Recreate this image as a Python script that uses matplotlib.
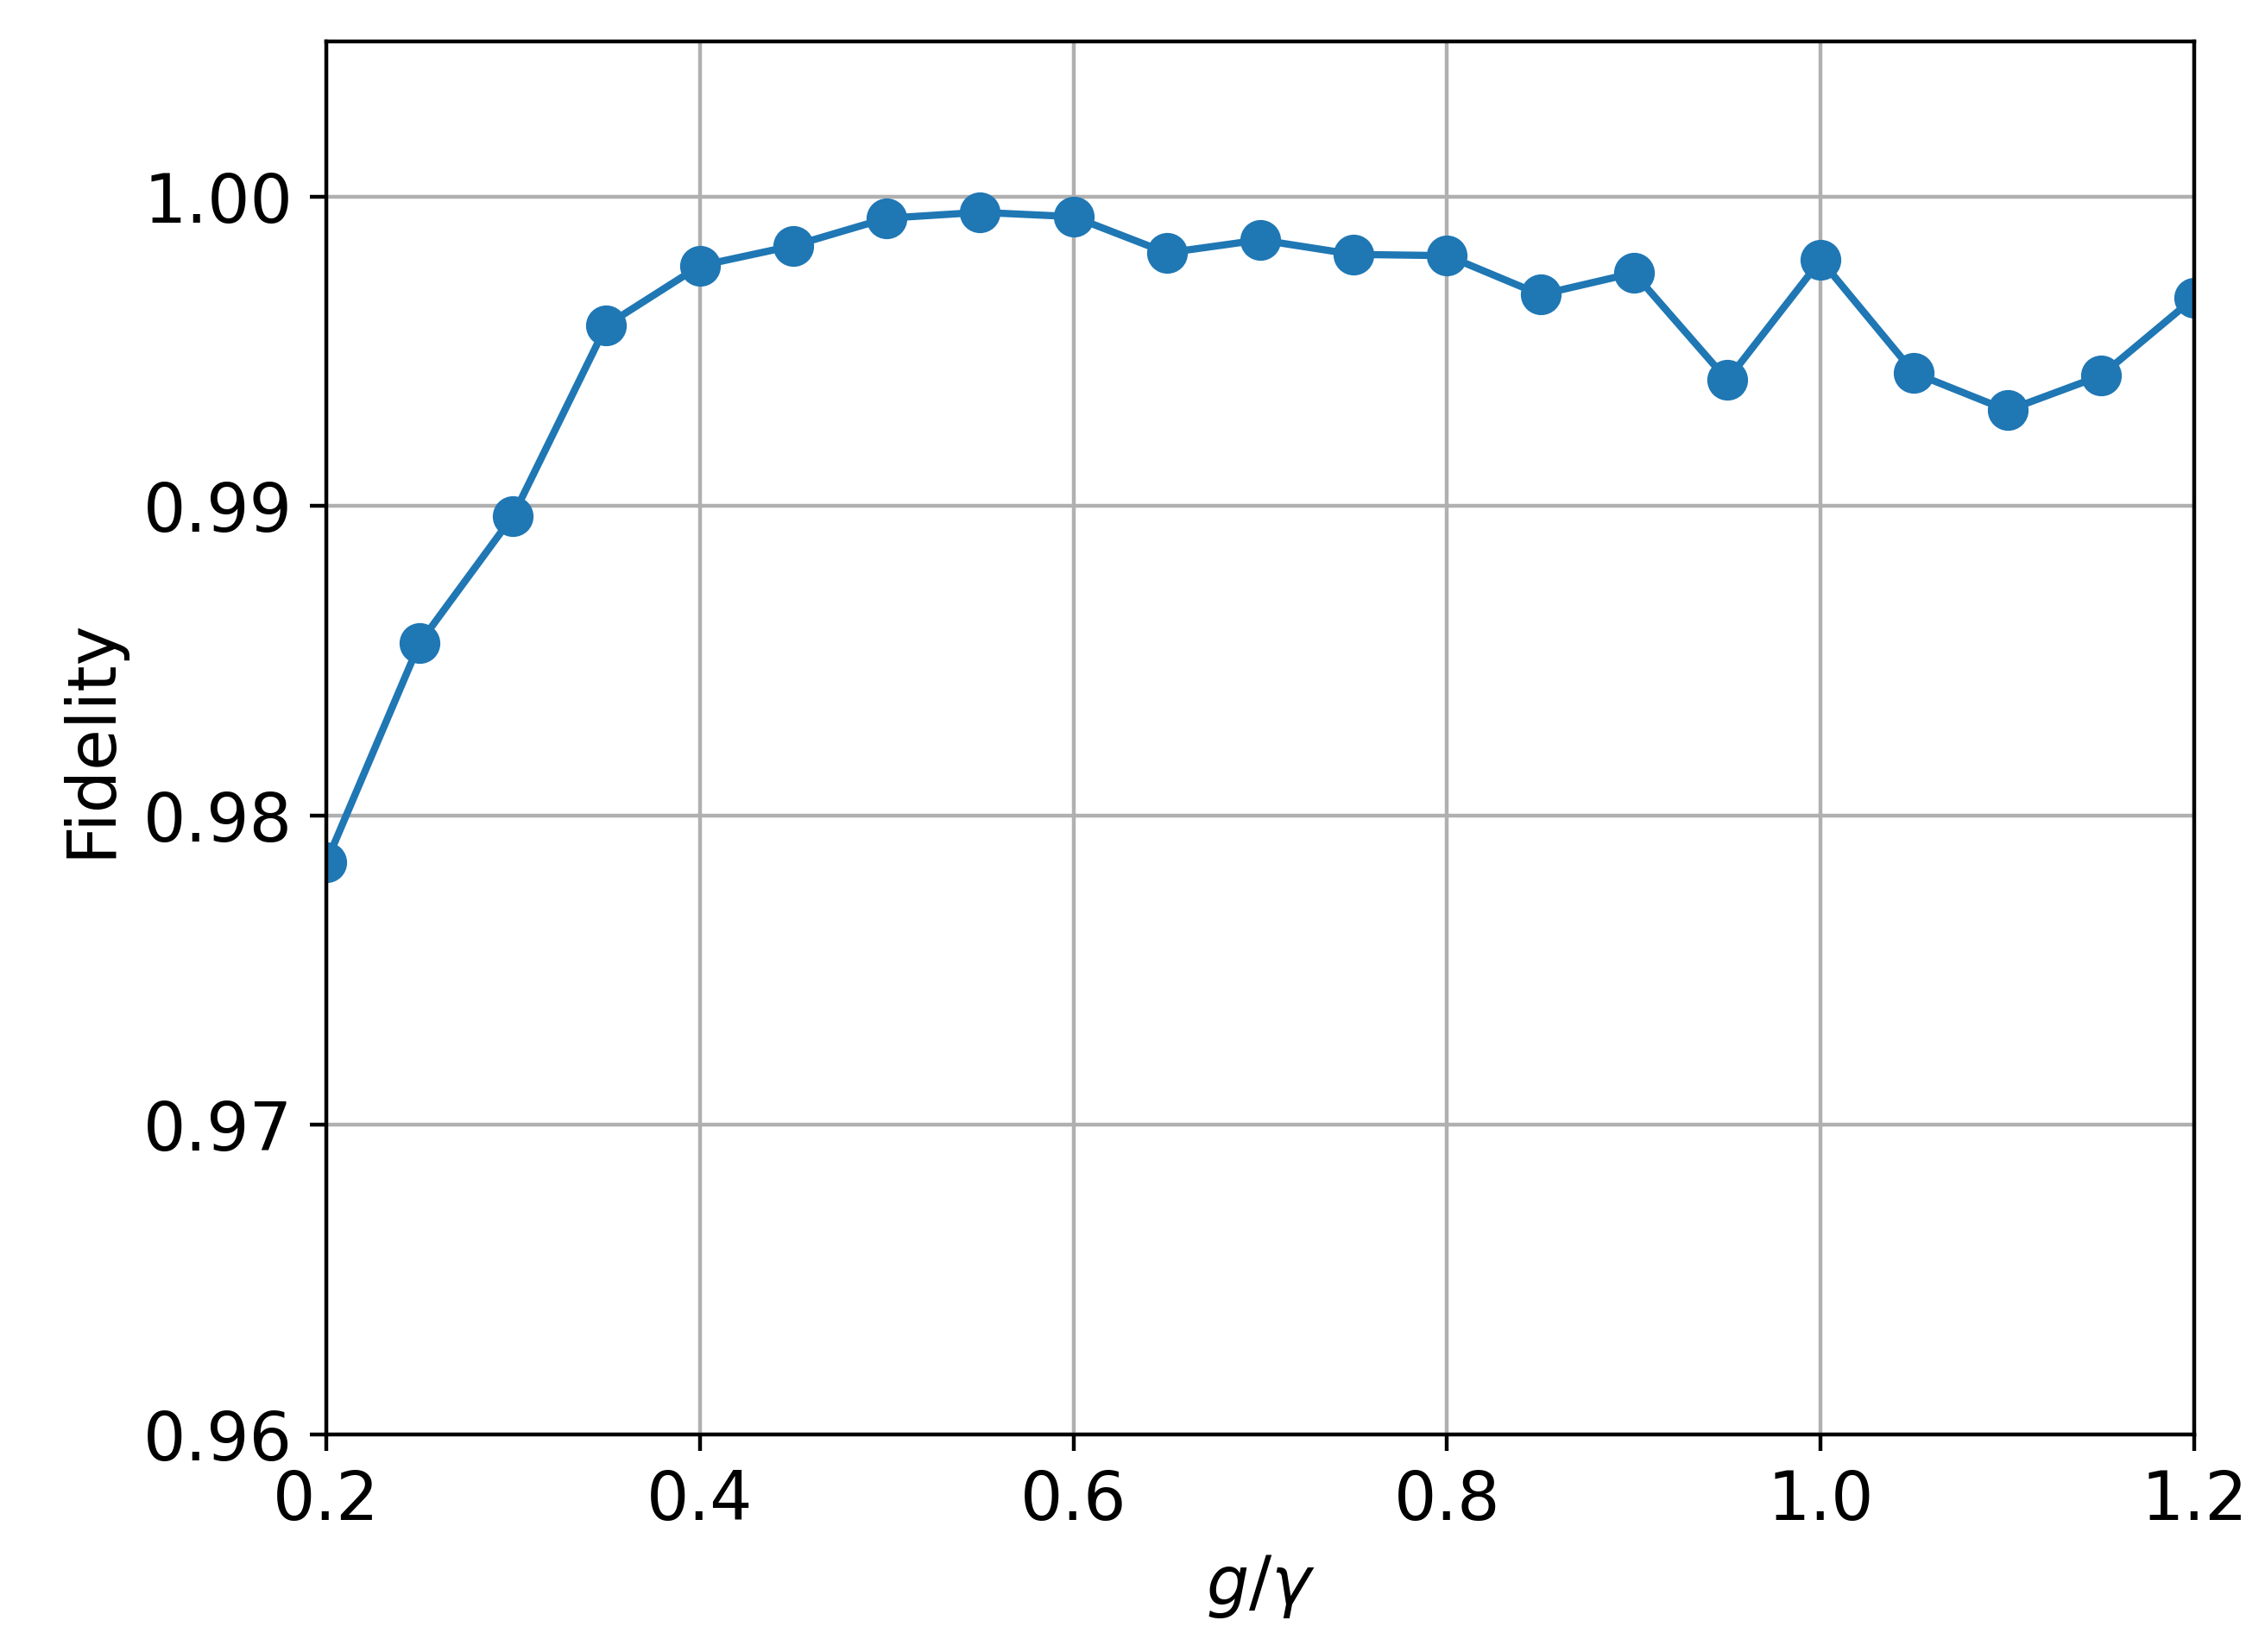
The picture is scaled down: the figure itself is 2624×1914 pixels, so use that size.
import matplotlib
matplotlib.use("Agg")
import matplotlib.pyplot as plt
import numpy as np

plt.rcParams['font.size'] = 14

g_over_gamma = [0.2, 0.25, 0.3, 0.35, 0.4, 0.45, 0.5, 0.55, 0.6, 0.65, 0.7,
                0.75, 0.8, 0.85, 0.9, 0.95, 1.0, 1.05, 1.1, 1.15, 1.2]
fidelity = [0.97848, 0.98557, 0.98968, 0.99584, 0.99776, 0.99841, 0.99930,
            0.99949, 0.99935, 0.99818, 0.99860, 0.99813, 0.99809, 0.99683,
            0.99753, 0.99407, 0.99795, 0.99430, 0.99309, 0.99421, 0.99673]

fig = plt.figure(figsize=(6.56, 4.785), dpi=400)
ax = fig.add_axes([0.144, 0.1317, 0.8248, 0.843])
ax.plot(g_over_gamma, fidelity, marker='o', markersize=7.5, color='#1f77b4')
ax.set_xlim(0.2, 1.2)
ax.set_ylim(0.96, 1.005)
ax.set_yticks([0.96, 0.97, 0.98, 0.99, 1.00])
ax.yaxis.set_major_formatter(matplotlib.ticker.FormatStrFormatter('%.2f'))
ax.grid(True)
ax.set_xlabel(r'$g/\gamma$')
ax.set_ylabel('Fidelity')
fig.savefig('out.png', dpi=400)
